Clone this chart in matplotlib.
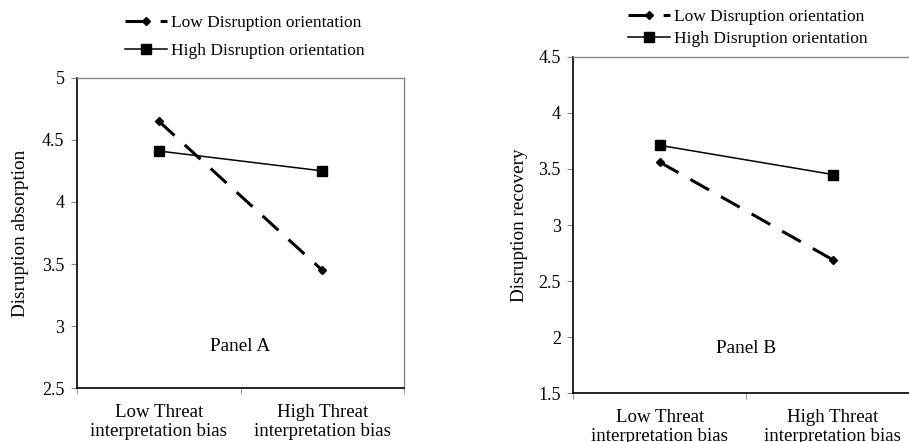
import numpy as np
import matplotlib.pyplot as plt

plt.rcParams['font.family'] = ['Liberation Serif', 'DejaVu Serif']

categories = ['Low Threat\ninterpretation bias', 'High Threat\ninterpretation bias']
series_names = ['Low Disruption orientation', 'High Disruption orientation']

absorption_low = [4.65, 3.45]
absorption_high = [4.41, 4.25]
recovery_low = [3.56, 2.69]
recovery_high = [3.71, 3.45]

fig = plt.figure(figsize=(9.09, 4.42), dpi=100)
axA = fig.add_axes([77/909, 1-388.3/442, 327/909, 310.6/442])
axB = fig.add_axes([573.3/909, 1-393.3/442, 346/909, 336.6/442])

def draw(ax, low, high, ylim, ylabel, panel, panel_y, leg_xy, leg_space):
    x = np.arange(len(categories))
    ax.plot(x, low, color='black', lw=2.2, dashes=(7, 4.5), marker='D', ms=4.5,
            label=series_names[0])
    ax.plot(x, high, color='black', lw=1.1, marker='s', ms=7.5, label=series_names[1])
    ax.set_xlim(-0.5, 1.5)
    ax.set_ylim(*ylim)
    ax.set_yticks(np.arange(ylim[0], ylim[1] + 0.01, 0.5))
    ax.set_yticklabels(['%g' % v for v in np.arange(ylim[0], ylim[1] + 0.01, 0.5)])
    ax.set_xticks(x)
    ax.set_xticklabels(categories, fontsize=13.6, linespacing=1.15)
    ax.set_xticks([-0.5, 0.5, 1.5], minor=True)
    ax.tick_params(axis='x', which='major', length=0, pad=11)
    ax.tick_params(axis='x', which='minor', length=4, color='#888888', direction='out')
    ax.tick_params(axis='y', length=4, color='#888888', labelsize=13, pad=5)
    for s in ['top', 'right']:
        ax.spines[s].set_color('#888888')
        ax.spines[s].set_linewidth(1)
    for s in ['left', 'bottom']:
        ax.spines[s].set_color('black')
        ax.spines[s].set_linewidth(1.2)
    ax.set_ylabel(ylabel, fontsize=13.8)
    ax.text(0.5, panel_y, panel, fontsize=13.9, ha='center', va='center')
    ax.legend(loc='upper left', bbox_to_anchor=leg_xy, bbox_transform=fig.transFigure,
              frameon=False, fontsize=12.5, handlelength=2.4, handletextpad=0.25,
              labelspacing=leg_space, borderpad=0, borderaxespad=0)

draw(axA, absorption_low, absorption_high, (2.5, 5.0), 'Disruption absorption',
     'Panel A', 2.84, (125/909, 1 - 15/442), 0.65)
draw(axB, recovery_low, recovery_high, (1.5, 4.5), 'Disruption recovery',
     'Panel B', 1.895, (628/909, 1 - 9/442), 0.34)
axA.yaxis.set_label_coords(-0.147, 0.5)
axB.yaxis.set_label_coords(-0.130, 0.5)

fig.savefig('out.png', dpi=100)
